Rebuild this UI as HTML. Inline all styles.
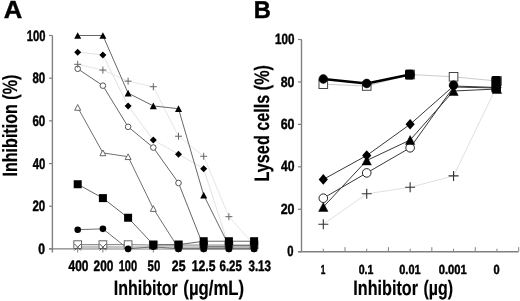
<!DOCTYPE html>
<html><head><meta charset="utf-8"><style>
html,body{margin:0;padding:0;background:#fff;}
svg{display:block;font-family:"Liberation Sans", sans-serif;will-change:transform;text-rendering:geometricPrecision;}
</style></head><body>
<svg width="520" height="301" viewBox="0 0 520 301">
<rect width="520" height="301" fill="#fff"/>
<line x1="52.40" y1="35.50" x2="52.40" y2="252.50" stroke="#808080" stroke-width="1.4"/>
<line x1="49.00" y1="248.90" x2="254.00" y2="248.90" stroke="#808080" stroke-width="1.4"/>
<line x1="49.00" y1="248.90" x2="52.40" y2="248.90" stroke="#808080" stroke-width="1.2"/>
<line x1="49.00" y1="206.22" x2="52.40" y2="206.22" stroke="#808080" stroke-width="1.2"/>
<line x1="49.00" y1="163.54" x2="52.40" y2="163.54" stroke="#808080" stroke-width="1.2"/>
<line x1="49.00" y1="120.86" x2="52.40" y2="120.86" stroke="#808080" stroke-width="1.2"/>
<line x1="49.00" y1="78.18" x2="52.40" y2="78.18" stroke="#808080" stroke-width="1.2"/>
<line x1="49.00" y1="35.50" x2="52.40" y2="35.50" stroke="#808080" stroke-width="1.2"/>
<line x1="77.70" y1="248.90" x2="77.70" y2="252.50" stroke="#808080" stroke-width="1.0"/>
<line x1="102.90" y1="248.90" x2="102.90" y2="252.50" stroke="#808080" stroke-width="1.0"/>
<line x1="128.10" y1="248.90" x2="128.10" y2="252.50" stroke="#808080" stroke-width="1.0"/>
<line x1="153.30" y1="248.90" x2="153.30" y2="252.50" stroke="#808080" stroke-width="1.0"/>
<line x1="178.50" y1="248.90" x2="178.50" y2="252.50" stroke="#808080" stroke-width="1.0"/>
<line x1="203.70" y1="248.90" x2="203.70" y2="252.50" stroke="#808080" stroke-width="1.0"/>
<line x1="228.90" y1="248.90" x2="228.90" y2="252.50" stroke="#808080" stroke-width="1.0"/>
<line x1="254.10" y1="248.90" x2="254.10" y2="252.50" stroke="#808080" stroke-width="1.0"/>
<polyline points="77.70,246.34 102.90,246.34 128.10,246.77 153.30,246.77 178.50,246.77 203.70,246.77 228.90,246.77 254.10,246.34" fill="none" stroke="#c8c8c8" stroke-width="1.2" stroke-linejoin="round"/>
<polyline points="77.70,247.83 102.90,247.83 128.10,248.05 153.30,248.05 178.50,248.05 203.70,247.83 228.90,247.83 254.10,247.62" fill="none" stroke="#d0d0d0" stroke-width="1.2" stroke-linejoin="round"/>
<polyline points="77.70,107.42 102.90,152.87 128.10,156.71 153.30,208.57 178.50,248.26 203.70,248.26 228.90,248.26 254.10,248.26" fill="none" stroke="#707070" stroke-width="1.0" stroke-linejoin="round"/>
<polyline points="77.70,244.63 102.90,244.63 128.10,244.63 153.30,245.06 178.50,245.06 203.70,245.06 228.90,245.06 254.10,245.06" fill="none" stroke="#808080" stroke-width="1.0" stroke-linejoin="round"/>
<polyline points="77.70,247.19 102.90,247.19 128.10,247.19 153.30,247.19 178.50,247.19 203.70,247.19 228.90,247.19 254.10,247.19" fill="none" stroke="#bbbbbb" stroke-width="1.0" stroke-linejoin="round"/>
<polyline points="77.70,229.69 102.90,228.84 128.10,248.90 153.30,246.77 178.50,248.90 203.70,248.90 228.90,248.90 254.10,248.90" fill="none" stroke="#707070" stroke-width="1.0" stroke-linejoin="round"/>
<polyline points="77.70,184.24 102.90,198.11 128.10,217.74 153.30,244.63 178.50,244.63 203.70,241.22 228.90,241.22 254.10,241.22" fill="none" stroke="#666" stroke-width="1.0" stroke-linejoin="round"/>
<polyline points="77.70,68.79 102.90,85.65 128.10,126.84 153.30,147.54 178.50,182.96 203.70,246.77 228.90,246.77 254.10,246.77" fill="none" stroke="#666" stroke-width="1.0" stroke-linejoin="round"/>
<polyline points="77.70,64.31 102.90,70.07 128.10,81.17 153.30,86.72 178.50,136.22 203.70,156.28 228.90,216.68 254.10,244.63" fill="none" stroke="#e6e6e6" stroke-width="1.0" stroke-linejoin="round"/>
<polyline points="77.70,52.15 102.90,54.92 128.10,105.92 153.30,140.07 178.50,154.15 203.70,168.66 228.90,246.77 254.10,246.77" fill="none" stroke="#e2e2e2" stroke-width="1.0" stroke-linejoin="round"/>
<polyline points="77.70,35.50 102.90,35.50 128.10,93.12 153.30,105.92 178.50,108.70 203.70,195.12 228.90,245.70 254.10,245.70" fill="none" stroke="#686868" stroke-width="1.0" stroke-linejoin="round"/>
<polygon points="77.70,104.57 80.70,110.27 74.70,110.27" fill="#fff" stroke="#666" stroke-width="1"/>
<polygon points="102.90,150.02 105.90,155.72 99.90,155.72" fill="#fff" stroke="#666" stroke-width="1"/>
<polygon points="128.10,153.86 131.10,159.56 125.10,159.56" fill="#fff" stroke="#666" stroke-width="1"/>
<polygon points="153.30,205.72 156.30,211.42 150.30,211.42" fill="#fff" stroke="#666" stroke-width="1"/>
<polygon points="178.50,245.41 181.50,251.11 175.50,251.11" fill="#fff" stroke="#666" stroke-width="1"/>
<polygon points="203.70,245.41 206.70,251.11 200.70,251.11" fill="#fff" stroke="#666" stroke-width="1"/>
<polygon points="228.90,245.41 231.90,251.11 225.90,251.11" fill="#fff" stroke="#666" stroke-width="1"/>
<polygon points="254.10,245.41 257.10,251.11 251.10,251.11" fill="#fff" stroke="#666" stroke-width="1"/>
<rect x="73.85" y="240.78" width="7.70" height="7.70" fill="#fff" stroke="#666" stroke-width="1"/>
<rect x="99.05" y="240.78" width="7.70" height="7.70" fill="#fff" stroke="#666" stroke-width="1"/>
<rect x="124.25" y="240.78" width="7.70" height="7.70" fill="#fff" stroke="#666" stroke-width="1"/>
<rect x="149.45" y="241.21" width="7.70" height="7.70" fill="#fff" stroke="#666" stroke-width="1"/>
<rect x="174.65" y="241.21" width="7.70" height="7.70" fill="#fff" stroke="#666" stroke-width="1"/>
<rect x="199.85" y="241.21" width="7.70" height="7.70" fill="#fff" stroke="#666" stroke-width="1"/>
<rect x="225.05" y="241.21" width="7.70" height="7.70" fill="#fff" stroke="#666" stroke-width="1"/>
<rect x="250.25" y="241.21" width="7.70" height="7.70" fill="#fff" stroke="#666" stroke-width="1"/>
<path d="M74.45,243.94L80.95,250.44M80.95,243.94L74.45,250.44" stroke="#555" stroke-width="1" fill="none"/>
<path d="M99.65,243.94L106.15,250.44M106.15,243.94L99.65,250.44" stroke="#555" stroke-width="1" fill="none"/>
<circle cx="77.70" cy="68.79" r="2.80" fill="#fff" stroke="#555" stroke-width="1"/>
<circle cx="102.90" cy="85.65" r="2.80" fill="#fff" stroke="#555" stroke-width="1"/>
<circle cx="128.10" cy="126.84" r="2.80" fill="#fff" stroke="#555" stroke-width="1"/>
<circle cx="153.30" cy="147.54" r="2.80" fill="#fff" stroke="#555" stroke-width="1"/>
<circle cx="178.50" cy="182.96" r="2.80" fill="#fff" stroke="#555" stroke-width="1"/>
<circle cx="203.70" cy="246.77" r="2.80" fill="#fff" stroke="#555" stroke-width="1"/>
<circle cx="228.90" cy="246.77" r="2.80" fill="#fff" stroke="#555" stroke-width="1"/>
<circle cx="254.10" cy="246.77" r="2.80" fill="#fff" stroke="#555" stroke-width="1"/>
<path d="M74.20,64.31H81.20M77.70,60.81V67.81" stroke="#666" stroke-width="1" fill="none"/>
<path d="M99.40,70.07H106.40M102.90,66.57V73.57" stroke="#666" stroke-width="1" fill="none"/>
<path d="M124.60,81.17H131.60M128.10,77.67V84.67" stroke="#666" stroke-width="1" fill="none"/>
<path d="M149.80,86.72H156.80M153.30,83.22V90.22" stroke="#666" stroke-width="1" fill="none"/>
<path d="M175.00,136.22H182.00M178.50,132.72V139.72" stroke="#666" stroke-width="1" fill="none"/>
<path d="M200.20,156.28H207.20M203.70,152.78V159.78" stroke="#666" stroke-width="1" fill="none"/>
<path d="M225.40,216.68H232.40M228.90,213.18V220.18" stroke="#666" stroke-width="1" fill="none"/>
<path d="M250.60,244.63H257.60M254.10,241.13V248.13" stroke="#666" stroke-width="1" fill="none"/>
<circle cx="77.70" cy="229.69" r="3.30" fill="#000" stroke="none" stroke-width="0"/>
<circle cx="102.90" cy="228.84" r="3.30" fill="#000" stroke="none" stroke-width="0"/>
<circle cx="128.10" cy="248.90" r="3.30" fill="#000" stroke="none" stroke-width="0"/>
<circle cx="153.30" cy="246.77" r="3.30" fill="#000" stroke="none" stroke-width="0"/>
<circle cx="178.50" cy="248.90" r="3.30" fill="#000" stroke="none" stroke-width="0"/>
<circle cx="203.70" cy="248.90" r="3.30" fill="#000" stroke="none" stroke-width="0"/>
<circle cx="228.90" cy="248.90" r="3.30" fill="#000" stroke="none" stroke-width="0"/>
<circle cx="254.10" cy="248.90" r="3.30" fill="#000" stroke="none" stroke-width="0"/>
<rect x="73.70" y="180.24" width="8.00" height="8.00" fill="#000" stroke="none" stroke-width="0"/>
<rect x="98.90" y="194.11" width="8.00" height="8.00" fill="#000" stroke="none" stroke-width="0"/>
<rect x="124.10" y="213.74" width="8.00" height="8.00" fill="#000" stroke="none" stroke-width="0"/>
<rect x="149.30" y="240.63" width="8.00" height="8.00" fill="#000" stroke="none" stroke-width="0"/>
<rect x="174.50" y="240.63" width="8.00" height="8.00" fill="#000" stroke="none" stroke-width="0"/>
<rect x="199.70" y="237.22" width="8.00" height="8.00" fill="#000" stroke="none" stroke-width="0"/>
<rect x="224.90" y="237.22" width="8.00" height="8.00" fill="#000" stroke="none" stroke-width="0"/>
<rect x="250.10" y="237.22" width="8.00" height="8.00" fill="#000" stroke="none" stroke-width="0"/>
<polygon points="77.70,48.65 81.20,52.15 77.70,55.65 74.20,52.15" fill="#000" stroke="none" stroke-width="0"/>
<polygon points="102.90,51.42 106.40,54.92 102.90,58.42 99.40,54.92" fill="#000" stroke="none" stroke-width="0"/>
<polygon points="128.10,102.42 131.60,105.92 128.10,109.42 124.60,105.92" fill="#000" stroke="none" stroke-width="0"/>
<polygon points="153.30,136.57 156.80,140.07 153.30,143.57 149.80,140.07" fill="#000" stroke="none" stroke-width="0"/>
<polygon points="178.50,150.65 182.00,154.15 178.50,157.65 175.00,154.15" fill="#000" stroke="none" stroke-width="0"/>
<polygon points="203.70,165.16 207.20,168.66 203.70,172.16 200.20,168.66" fill="#000" stroke="none" stroke-width="0"/>
<polygon points="228.90,243.27 232.40,246.77 228.90,250.27 225.40,246.77" fill="#000" stroke="none" stroke-width="0"/>
<polygon points="254.10,243.27 257.60,246.77 254.10,250.27 250.60,246.77" fill="#000" stroke="none" stroke-width="0"/>
<polygon points="77.70,32.18 81.20,38.83 74.20,38.83" fill="#000" stroke="none" stroke-width="0"/>
<polygon points="102.90,32.18 106.40,38.83 99.40,38.83" fill="#000" stroke="none" stroke-width="0"/>
<polygon points="128.10,89.79 131.60,96.44 124.60,96.44" fill="#000" stroke="none" stroke-width="0"/>
<polygon points="153.30,102.60 156.80,109.25 149.80,109.25" fill="#000" stroke="none" stroke-width="0"/>
<polygon points="178.50,105.37 182.00,112.02 175.00,112.02" fill="#000" stroke="none" stroke-width="0"/>
<polygon points="203.70,191.80 207.20,198.45 200.20,198.45" fill="#000" stroke="none" stroke-width="0"/>
<polygon points="228.90,242.37 232.40,249.02 225.40,249.02" fill="#000" stroke="none" stroke-width="0"/>
<polygon points="254.10,242.37 257.60,249.02 250.60,249.02" fill="#000" stroke="none" stroke-width="0"/>
<rect x="200.10" y="242" width="7.2" height="6.5" fill="#000"/>
<rect x="225.30" y="242" width="7.2" height="6.5" fill="#000"/>
<rect x="250.50" y="242" width="7.2" height="6.5" fill="#000"/>
<text transform="translate(26.80 40.58) scale(0.7388 1)" font-size="15.14" font-weight="bold" stroke="#000" stroke-width="0.45">100</text>
<text transform="translate(32.48 83.26) scale(0.7589 1)" font-size="15.14" font-weight="bold" stroke="#000" stroke-width="0.45">80</text>
<text transform="translate(32.42 125.94) scale(0.7626 1)" font-size="15.14" font-weight="bold" stroke="#000" stroke-width="0.45">60</text>
<text transform="translate(32.66 168.62) scale(0.7481 1)" font-size="15.14" font-weight="bold" stroke="#000" stroke-width="0.45">40</text>
<text transform="translate(32.42 211.30) scale(0.7626 1)" font-size="15.14" font-weight="bold" stroke="#000" stroke-width="0.45">20</text>
<text transform="translate(38.14 253.98) scale(0.7995 1)" font-size="15.14" font-weight="bold" stroke="#000" stroke-width="0.45">0</text>
<text transform="translate(68.55 271.17) scale(0.7897 1)" font-size="15.14" font-weight="bold" stroke="#000" stroke-width="0.45">400</text>
<text transform="translate(93.61 271.17) scale(0.7830 1)" font-size="15.14" font-weight="bold" stroke="#000" stroke-width="0.45">200</text>
<text transform="translate(118.71 271.17) scale(0.7303 1)" font-size="15.14" font-weight="bold" stroke="#000" stroke-width="0.45">100</text>
<text transform="translate(147.58 271.17) scale(0.7525 1)" font-size="15.14" font-weight="bold" stroke="#000" stroke-width="0.45">50</text>
<text transform="translate(171.79 271.17) scale(0.8146 1)" font-size="15.14" font-weight="bold" stroke="#000" stroke-width="0.45">25</text>
<text transform="translate(191.73 271.17) scale(0.8064 1)" font-size="15.14" font-weight="bold" stroke="#000" stroke-width="0.45">12.5</text>
<text transform="translate(219.52 271.17) scale(0.7586 1)" font-size="15.14" font-weight="bold" stroke="#000" stroke-width="0.45">6.25</text>
<text transform="translate(248.44 271.17) scale(0.7656 1)" font-size="15.14" font-weight="bold" stroke="#000" stroke-width="0.45">3.13</text>
<text transform="translate(3.69 18.17) scale(1.0299 1)" font-size="24.86" font-weight="bold" stroke="#000" stroke-width="0.45">A</text>
<text transform="translate(113.76 294.50) scale(0.7702 1)" font-size="20.80" font-weight="bold" stroke="#000" stroke-width="0.2">Inhibitor</text>
<text transform="translate(183.36 294.50) scale(0.8051 1)" font-size="20.80" font-weight="bold" stroke="#000" stroke-width="0.2">(µg/mL)</text>
<text transform="translate(17.10 176.55) rotate(-90) scale(0.7820 1)" font-size="20.58" font-weight="bold" stroke="#000" stroke-width="0.2">Inhibition (%)</text>
<line x1="301.50" y1="39.40" x2="301.50" y2="251.70" stroke="#808080" stroke-width="1.4"/>
<line x1="298.00" y1="251.70" x2="518.50" y2="251.70" stroke="#808080" stroke-width="1.5"/>
<line x1="298.00" y1="251.70" x2="301.50" y2="251.70" stroke="#808080" stroke-width="1.2"/>
<line x1="298.00" y1="209.26" x2="301.50" y2="209.26" stroke="#808080" stroke-width="1.2"/>
<line x1="298.00" y1="166.82" x2="301.50" y2="166.82" stroke="#808080" stroke-width="1.2"/>
<line x1="298.00" y1="124.38" x2="301.50" y2="124.38" stroke="#808080" stroke-width="1.2"/>
<line x1="298.00" y1="81.94" x2="301.50" y2="81.94" stroke="#808080" stroke-width="1.2"/>
<line x1="298.00" y1="39.50" x2="301.50" y2="39.50" stroke="#808080" stroke-width="1.2"/>
<line x1="323.30" y1="251.70" x2="323.30" y2="248.70" stroke="#808080" stroke-width="1.0"/>
<line x1="345.00" y1="251.70" x2="345.00" y2="247.20" stroke="#808080" stroke-width="1.0"/>
<line x1="366.72" y1="251.70" x2="366.72" y2="248.70" stroke="#808080" stroke-width="1.0"/>
<line x1="388.42" y1="251.70" x2="388.42" y2="247.20" stroke="#808080" stroke-width="1.0"/>
<line x1="410.14" y1="251.70" x2="410.14" y2="248.70" stroke="#808080" stroke-width="1.0"/>
<line x1="431.84" y1="251.70" x2="431.84" y2="247.20" stroke="#808080" stroke-width="1.0"/>
<line x1="453.56" y1="251.70" x2="453.56" y2="248.70" stroke="#808080" stroke-width="1.0"/>
<line x1="475.26" y1="251.70" x2="475.26" y2="247.20" stroke="#808080" stroke-width="1.0"/>
<line x1="496.98" y1="251.70" x2="496.98" y2="248.70" stroke="#808080" stroke-width="1.0"/>
<line x1="518.68" y1="251.70" x2="518.68" y2="247.20" stroke="#808080" stroke-width="1.0"/>
<text transform="translate(274.97 44.07) scale(0.7830 1)" font-size="14.86" font-weight="bold" stroke="#000" stroke-width="0.45">100</text>
<text transform="translate(280.75 86.52) scale(0.8315 1)" font-size="14.86" font-weight="bold" stroke="#000" stroke-width="0.45">80</text>
<text transform="translate(280.69 128.96) scale(0.8355 1)" font-size="14.86" font-weight="bold" stroke="#000" stroke-width="0.45">60</text>
<text transform="translate(280.94 171.40) scale(0.8197 1)" font-size="14.86" font-weight="bold" stroke="#000" stroke-width="0.45">40</text>
<text transform="translate(280.69 213.84) scale(0.8355 1)" font-size="14.86" font-weight="bold" stroke="#000" stroke-width="0.45">20</text>
<text transform="translate(287.37 256.27) scale(0.7580 1)" font-size="14.86" font-weight="bold" stroke="#000" stroke-width="0.45">0</text>
<text transform="translate(320.79 274.07) scale(0.6287 1)" font-size="13.17" font-weight="bold" stroke="#000" stroke-width="0.45">1</text>
<text transform="translate(358.70 274.07) scale(0.8052 1)" font-size="13.17" font-weight="bold" stroke="#000" stroke-width="0.45">0.1</text>
<text transform="translate(399.29 274.07) scale(0.8300 1)" font-size="13.17" font-weight="bold" stroke="#000" stroke-width="0.45">0.01</text>
<text transform="translate(438.68 274.07) scale(0.8498 1)" font-size="13.17" font-weight="bold" stroke="#000" stroke-width="0.45">0.001</text>
<text transform="translate(493.38 274.07) scale(0.8393 1)" font-size="13.17" font-weight="bold" stroke="#000" stroke-width="0.45">0</text>
<text transform="translate(253.69 18.47) scale(0.9758 1)" font-size="24.28" font-weight="bold" stroke="#000" stroke-width="0.45">B</text>
<text transform="translate(353.35 295.40) scale(0.7776 1)" font-size="20.80" font-weight="bold" stroke="#000" stroke-width="0.2">Inhibitor</text>
<text transform="translate(423.40 295.40) scale(0.7670 1)" font-size="20.80" font-weight="bold" stroke="#000" stroke-width="0.2">(µg)</text>
<text transform="translate(268.60 181.45) rotate(-90) scale(0.7768 1)" font-size="20.87" font-weight="bold" stroke="#000" stroke-width="0.2">Lysed cells (%)</text>
<polyline points="323.30,224.20 366.72,193.80 410.14,187.30 453.56,175.90 496.98,86.00" fill="none" stroke="#e0e0e0" stroke-width="1.0" stroke-linejoin="round"/>
<polyline points="323.30,84.20 366.72,86.00 410.14,74.50 453.56,76.80 496.98,81.00" fill="none" stroke="#ccc" stroke-width="1.0" stroke-linejoin="round"/>
<polyline points="323.30,179.40 366.72,155.50 410.14,124.30 453.56,86.00 496.98,87.50" fill="none" stroke="#383838" stroke-width="1.0" stroke-linejoin="round"/>
<polyline points="323.30,207.00 366.72,160.50 410.14,140.00 453.56,91.00 496.98,89.00" fill="none" stroke="#383838" stroke-width="1.0" stroke-linejoin="round"/>
<polyline points="323.30,198.20 366.72,172.90 410.14,147.80 453.56,87.00 496.98,88.00" fill="none" stroke="#383838" stroke-width="1.0" stroke-linejoin="round"/>
<polyline points="323.30,79.00 366.72,83.50 410.14,74.50" fill="none" stroke="#000" stroke-width="2.6" stroke-linejoin="round"/>
<path d="M318.30,224.20H328.30M323.30,219.20V229.20" stroke="#333" stroke-width="1.1" fill="none"/>
<path d="M361.72,193.80H371.72M366.72,188.80V198.80" stroke="#333" stroke-width="1.1" fill="none"/>
<path d="M405.14,187.30H415.14M410.14,182.30V192.30" stroke="#333" stroke-width="1.1" fill="none"/>
<path d="M448.56,175.90H458.56M453.56,170.90V180.90" stroke="#333" stroke-width="1.1" fill="none"/>
<rect x="319.00" y="79.90" width="8.60" height="8.60" fill="#fff" stroke="#444" stroke-width="1"/>
<rect x="362.42" y="81.70" width="8.60" height="8.60" fill="#fff" stroke="#444" stroke-width="1"/>
<rect x="405.84" y="70.20" width="8.60" height="8.60" fill="#fff" stroke="#444" stroke-width="1"/>
<rect x="449.26" y="72.50" width="8.60" height="8.60" fill="#fff" stroke="#444" stroke-width="1"/>
<rect x="492.68" y="76.70" width="8.60" height="8.60" fill="#fff" stroke="#444" stroke-width="1"/>
<circle cx="323.30" cy="198.20" r="4.30" fill="#fff" stroke="#222" stroke-width="1"/>
<circle cx="366.72" cy="172.90" r="4.30" fill="#fff" stroke="#222" stroke-width="1"/>
<circle cx="410.14" cy="147.80" r="4.30" fill="#fff" stroke="#222" stroke-width="1"/>
<polygon points="323.30,202.58 327.95,211.42 318.65,211.42" fill="#000" stroke="#000" stroke-width="0.5"/>
<polygon points="366.72,156.08 371.37,164.92 362.07,164.92" fill="#000" stroke="#000" stroke-width="0.5"/>
<polygon points="410.14,135.58 414.79,144.42 405.49,144.42" fill="#000" stroke="#000" stroke-width="0.5"/>
<polygon points="453.56,86.58 458.21,95.42 448.91,95.42" fill="#000" stroke="#000" stroke-width="0.5"/>
<polygon points="496.98,84.58 501.63,93.42 492.33,93.42" fill="#000" stroke="#000" stroke-width="0.5"/>
<polygon points="323.30,174.10 327.90,179.40 323.30,184.70 318.70,179.40" fill="#000"/>
<polygon points="366.72,150.20 371.32,155.50 366.72,160.80 362.12,155.50" fill="#000"/>
<polygon points="410.14,119.00 414.74,124.30 410.14,129.60 405.54,124.30" fill="#000"/>
<polygon points="453.56,80.70 458.16,86.00 453.56,91.30 448.96,86.00" fill="#000"/>
<polygon points="496.98,82.20 501.58,87.50 496.98,92.80 492.38,87.50" fill="#000"/>
<circle cx="323.30" cy="79.00" r="4.40" fill="#000" stroke="#000" stroke-width="0.5"/>
<circle cx="366.72" cy="83.50" r="4.40" fill="#000" stroke="#000" stroke-width="0.5"/>
<circle cx="410.14" cy="74.50" r="4.40" fill="#000" stroke="#000" stroke-width="0.5"/>
<circle cx="453.56" cy="85.10" r="4.40" fill="#000" stroke="#000" stroke-width="0.5"/>
<rect x="405" y="69.8" width="8.8" height="9.8" rx="1.5" fill="#000"/>
<rect x="491.3" y="76" width="9.6" height="17" rx="2" fill="#000"/>
</svg>
</body></html>
